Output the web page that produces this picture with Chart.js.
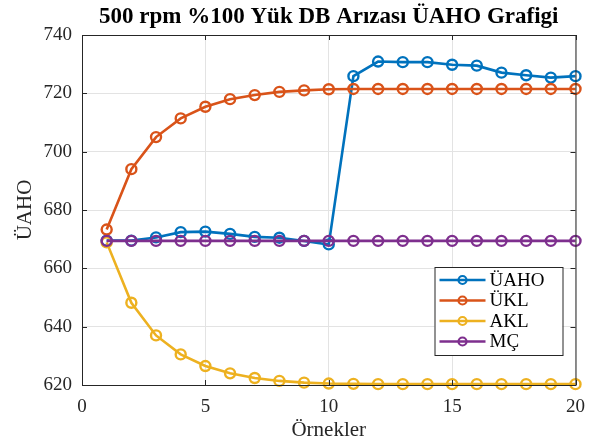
<!DOCTYPE html>
<html>
<head>
<meta charset="utf-8">
<script src="https://cdn.jsdelivr.net/npm/chart.js@4"></script>
<style>
  html, body { margin: 0; padding: 0; background: #fff; }
  #wrap { width: 596px; height: 444px; }
</style>
</head>
<body>
<div id="wrap"><canvas id="chart"></canvas></div>
<script>
var chartTitle = "500 rpm %100 Yük DB Arızası ÜAHO Grafigi";
var samples = [1, 2, 3, 4, 5, 6, 7, 8, 9, 10, 11, 12, 13, 14, 15, 16, 17, 18, 19, 20];
var uaho = [669.5, 669.5, 670.6, 672.4, 672.6, 671.8, 670.8, 670.5, 669.4, 668.2,
            725.9, 730.9, 730.7, 730.7, 729.8, 729.5, 727.1, 726.2, 725.4, 725.9];
var ukl = [673.3, 694.0, 705.0, 711.4, 715.4, 718.0, 719.4, 720.5, 721.0, 721.4,
           721.5, 721.5, 721.5, 721.5, 721.5, 721.5, 721.5, 721.5, 721.5, 721.5];
var akl = [668.9, 648.2, 637.0, 630.5, 626.5, 624.0, 622.4, 621.4, 620.8, 620.5,
           620.4, 620.3, 620.3, 620.3, 620.3, 620.3, 620.3, 620.3, 620.3, 620.3];
var mc = [669.4, 669.4, 669.4, 669.4, 669.4, 669.4, 669.4, 669.4, 669.4, 669.4,
          669.4, 669.4, 669.4, 669.4, 669.4, 669.4, 669.4, 669.4, 669.4, 669.4];
var seriesNames = ["ÜAHO", "ÜKL", "AKL", "MÇ"];
var seriesColors = ["#0072BD", "#D95319", "#EDB120", "#7E2F8E"];

var serif = "'Liberation Serif', 'Times New Roman', serif";
var axisColor = "#262626";

function toPoints(values) {
  return values.map(function(v, i) { return { x: samples[i], y: v }; });
}

function makeDataset(name, values, color, order) {
  return {
    label: name,
    data: toPoints(values),
    borderColor: color,
    backgroundColor: color,
    borderWidth: 2.6,
    pointRadius: 5,
    pointBorderWidth: 2.4,
    pointBackgroundColor: "rgba(255,255,255,0)",
    pointBorderColor: color,
    tension: 0,
    clip: false,
    order: order
  };
}

// box around the axes with ticks pointing inward on all four sides,
// title centred over the axes, and the legend box inside
var framePlugin = {
  id: "frame",
  afterDatasetsDraw: function(chart) {
    var ctx = chart.ctx;
    var a = chart.chartArea;
    var xs = chart.scales.x, ys = chart.scales.y;
    ctx.save();
    ctx.strokeStyle = axisColor;
    ctx.lineWidth = 1;
    ctx.strokeRect(a.left + 0.5, a.top + 0.5, a.right - a.left, a.bottom - a.top);
    ctx.beginPath();
    xs.ticks.forEach(function(t) {
      var px = Math.round(xs.getPixelForValue(t.value)) + 0.5;
      ctx.moveTo(px, a.bottom); ctx.lineTo(px, a.bottom - 5);
      ctx.moveTo(px, a.top); ctx.lineTo(px, a.top + 5);
    });
    ys.ticks.forEach(function(t) {
      var py = Math.round(ys.getPixelForValue(t.value)) + 0.5;
      ctx.moveTo(a.left, py); ctx.lineTo(a.left + 5, py);
      ctx.moveTo(a.right, py); ctx.lineTo(a.right - 5, py);
    });
    ctx.stroke();
    ctx.restore();
  },
  afterDraw: function(chart) {
    var ctx = chart.ctx;
    var a = chart.chartArea;
    ctx.save();
    ctx.fillStyle = "#000";
    ctx.font = "bold 23px " + serif;
    ctx.textAlign = "center";
    ctx.textBaseline = "middle";
    ctx.fillText(chartTitle, (a.left + a.right) / 2, a.top - 18);

    var w = 128, h = 88;
    var x0 = a.right - 13 - w, y0 = a.bottom - 30 - h;
    ctx.textAlign = "left";
    ctx.fillStyle = "#fff";
    ctx.fillRect(x0, y0, w, h);
    ctx.strokeStyle = axisColor;
    ctx.lineWidth = 1;
    ctx.strokeRect(x0 + 0.5, y0 + 0.5, w, h);
    ctx.font = "19px " + serif;
    for (var i = 0; i < seriesNames.length; i++) {
      var cy = y0 + 13 + i * 20.5;
      ctx.strokeStyle = seriesColors[i];
      ctx.lineWidth = 2.6;
      ctx.beginPath();
      ctx.moveTo(x0 + 5, cy); ctx.lineTo(x0 + 51, cy);
      ctx.stroke();
      ctx.lineWidth = 2.2;
      ctx.beginPath();
      ctx.arc(x0 + 28, cy, 4, 0, Math.PI * 2);
      ctx.stroke();
      ctx.fillStyle = "#000";
      ctx.fillText(seriesNames[i], x0 + 55, cy + 1);
    }
    ctx.restore();
  }
};

new Chart(document.getElementById("chart"), {
  type: "line",
  data: {
    datasets: [
      makeDataset(seriesNames[0], uaho, seriesColors[0], 3),
      makeDataset(seriesNames[1], ukl, seriesColors[1], 2),
      makeDataset(seriesNames[2], akl, seriesColors[2], 1),
      makeDataset(seriesNames[3], mc, seriesColors[3], 0)
    ]
  },
  options: {
    responsive: true,
    maintainAspectRatio: false,
    animation: false,
    layout: { padding: { left: 0, right: 17, top: 35, bottom: 0 } },
    plugins: {
      legend: { display: false },
      tooltip: { enabled: false },
      title: { display: false }
    },
    scales: {
      x: {
        type: "linear",
        min: 0,
        max: 20,
        border: { display: false },
        grid: { color: "#e3e3e3", lineWidth: 1, drawTicks: false },
        ticks: {
          stepSize: 5,
          color: axisColor,
          font: { family: serif, size: 19 },
          padding: 11,
          maxRotation: 0
        },
        title: {
          display: true,
          text: "Örnekler",
          color: axisColor,
          font: { family: serif, size: 21, lineHeight: 1.2 },
          padding: { top: 0, bottom: 1 }
        },
        afterFit: function(scale) { scale.height = 59; }
      },
      y: {
        min: 620,
        max: 740,
        border: { display: false },
        grid: { color: "#e3e3e3", lineWidth: 1, drawTicks: false },
        ticks: {
          stepSize: 20,
          color: axisColor,
          font: { family: serif, size: 19 },
          padding: 10
        },
        title: {
          display: true,
          text: "ÜAHO",
          color: axisColor,
          font: { family: serif, size: 21, lineHeight: 1.2 },
          padding: { top: 13, bottom: 0 }
        },
        afterFit: function(scale) { scale.width = 82; }
      }
    }
  },
  plugins: [framePlugin]
});
</script>
</body>
</html>
